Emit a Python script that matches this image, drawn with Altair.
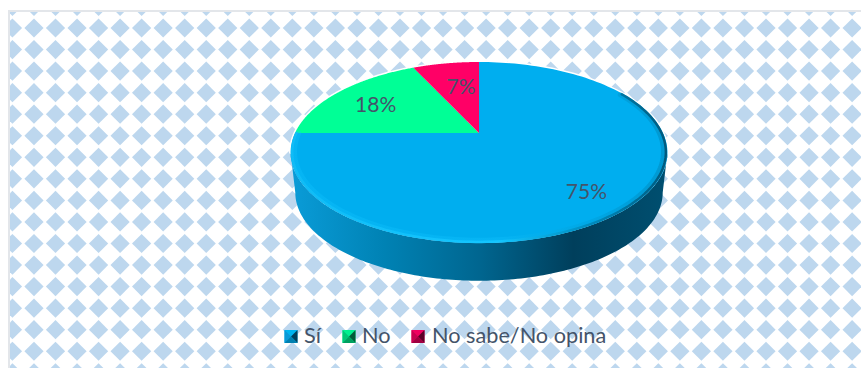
import math
import altair as alt
import pandas as pd

# Survey answers and their shares (percent)
categories = ["Sí", "No", "No sabe/No opina"]
shares = [75, 18, 7]
face_colors = ["#00AEEF", "#00FF96", "#FF0066"]
label_angles = [140.0, 299.2, 349.4]
label_radii = [0.79, 0.69, 0.60]

# Perspective disc: where its centre lands on the page and how it foreshortens
CX, CY, AX, AY, K = 479.0, 133.0, 184.0, 86.3, 0.2155
EDGE_THETA = math.degrees(math.acos(-K))
DEPTH, FOOT = 40.0, 0.975
MID_Y = 152.0
LABEL_COLOR = "#44546A"
FONT = "Lato"


def project(theta, r=1.0):
    """Map a clockwise angle from 12 o'clock on the disc to page coordinates."""
    t = math.radians(theta)
    u, v = r * math.sin(t), r * math.cos(t)
    w = 1 + K * v
    return CX + AX * u / w, CY - AY * v / w


def rim(start, stop, n=160, r=1.0):
    return [project(start + (stop - start) * i / n, r) for i in range(n + 1)]


def polygon(points):
    return pd.DataFrame([{"x": x, "y": y, "i": i} for i, (x, y) in enumerate(points)])


X = alt.X("x:Q", scale=alt.Scale(domain=[10, 861], nice=False, zero=False), axis=None)
Y = alt.Y("y:Q", scale=alt.Scale(domain=[368, 12], nice=False, zero=False), axis=None)


def filled(points, fill):
    return (
        alt.Chart(polygon(points))
        .mark_line(fill=fill, stroke=None, strokeWidth=0, clip=True)
        .encode(x=X, y=Y, order=alt.Order("i:Q"))
    )


def stroked(points, stroke, width, opacity=1.0):
    return (
        alt.Chart(polygon(points))
        .mark_line(stroke=stroke, strokeWidth=width, opacity=opacity, strokeCap="round")
        .encode(x=X, y=Y, order=alt.Order("i:Q"))
    )


def horizontal(stops):
    return alt.Gradient(
        gradient="linear", x1=0, x2=1, y1=0, y2=0,
        stops=[alt.GradientStop(offset=o, color=c) for o, c in stops],
    )


# Diamond wallpaper behind the chart
PITCH_X, PITCH_Y = 21.53, 21.55
wallpaper = pd.DataFrame(
    [
        {"x": 12.45 + PITCH_X * col, "y": 6.45 + PITCH_Y * row}
        for col in range(41)
        for row in range(18)
    ]
)
diamonds = (
    alt.Chart(wallpaper)
    .mark_point(shape="diamond", filled=True, size=370, color="#BDD7EE", opacity=1, clip=True)
    .encode(x=X, y=Y)
)

# Frame along the top and left edges
frame_left = alt.Chart(pd.DataFrame({"a": [0]})).mark_rule(color="#E3E6EA", strokeWidth=2).encode(
    x=alt.value(-1), y=alt.value(-2), y2=alt.value(356)
)
frame_top = alt.Chart(pd.DataFrame({"a": [0]})).mark_rule(color="#E3E6EA", strokeWidth=2).encode(
    x=alt.value(-2), x2=alt.value(851), y=alt.value(-1)
)

# Wall of the disc
lower = rim(EDGE_THETA, 360 - EDGE_THETA)
foot = [(CX + FOOT * (x - CX), MID_Y + DEPTH + FOOT * (y - MID_Y)) for x, y in lower]
wall = filled(
    lower + foot[::-1],
    horizontal(
        [
            (0.0, "#0A9CD8"),
            (0.25, "#0082B4"),
            (0.5, "#006690"),
            (0.75, "#003F5C"),
            (1.0, "#004F70"),
        ]
    ),
)

halo = stroked(rim(-EDGE_THETA, EDGE_THETA), "#FFFFFF", 3)

# Top face: the slices run clockwise from 12 o'clock
slices = []
start = 0.0
for share, color in zip(shares, face_colors):
    stop = start + 360.0 * share / sum(shares)
    slices.append(filled([(CX, CY)] + rim(start, stop), color))
    start = stop

# Raised edge of the top face
bevel_soft = stroked(
    rim(60, 270, r=0.98),
    horizontal([(0, "#12C4FF"), (0.55, "#12C4FF"), (0.8, "#0098D0"), (1, "#00688F")]),
    5,
    0.3,
)
bevel = stroked(
    rim(60, 270, r=0.992),
    horizontal([(0, "#10BCF6"), (0.55, "#14C6FF"), (0.78, "#0090C4"), (1, "#005A7E")]),
    2.5,
)

# Percent labels on the slices
labels = pd.DataFrame(
    [
        {"x": project(a, r)[0], "y": project(a, r)[1], "t": f"{s}%"}
        for a, r, s in zip(label_angles, label_radii, shares)
    ]
)
label_text = (
    alt.Chart(labels)
    .mark_text(font=FONT, fontSize=21, color=LABEL_COLOR, align="center", baseline="middle")
    .encode(x=X, y=Y, text="t:N")
)

# Legend row with bevelled keys
KEY_SIZE = 13
KEY_XS = [291, 349, 418]
KEY_Y = 336.5
TEXT_XS = [304, 362, 432]
key_facets = [
    ("M-1,-1L1,-1L1,1L-1,1Z", "base"),
    ("M-1,-1L0,0L-1,1Z", "left"),
    ("M1,-1L0,0L1,1Z", "right"),
    ("M-1,1L0,0L1,1Z", "bottom"),
]
key_shades = {
    "Sí": {"base": "#00B4EF", "left": "#0A9AD8", "right": "#003F5C", "bottom": "#0080B0"},
    "No": {"base": "#00F090", "left": "#00C878", "right": "#005C38", "bottom": "#00A060"},
    "No sabe/No opina": {"base": "#F00060", "left": "#C80050", "right": "#5C0028", "bottom": "#A00040"},
}
key_rows = []
for name, kx in zip(categories, KEY_XS):
    for order, (path, facet) in enumerate(key_facets):
        key_rows.append(
            {"x": kx, "y": KEY_Y, "path": path, "c": key_shades[name][facet], "z": order}
        )
keys = (
    alt.Chart(pd.DataFrame(key_rows))
    .mark_point(filled=True, opacity=1, size=KEY_SIZE * KEY_SIZE, strokeWidth=0)
    .encode(
        x=X,
        y=Y,
        shape=alt.Shape("path:N", scale=None),
        color=alt.Color("c:N", scale=None),
        order=alt.Order("z:Q"),
    )
)
legend_text = (
    alt.Chart(pd.DataFrame({"x": TEXT_XS, "y": [KEY_Y - 0.5] * 3, "t": categories}))
    .mark_text(font=FONT, fontSize=21.7, color=LABEL_COLOR, align="left", baseline="middle")
    .encode(x=X, y=Y, text="t:N")
)

chart = (
    alt.layer(
        diamonds, frame_left, frame_top, wall, halo, *slices, bevel_soft, bevel, label_text, keys, legend_text
    )
    .properties(
        width=851,
        height=356,
        padding={"left": 10, "top": 12, "right": 0, "bottom": 0},
        autosize=alt.AutoSizeParams(type="none"),
        background="#FFFFFF",
    )
    .configure_view(stroke=None)
)

chart.save("out.html", embed_options={"renderer": "svg", "actions": False})
